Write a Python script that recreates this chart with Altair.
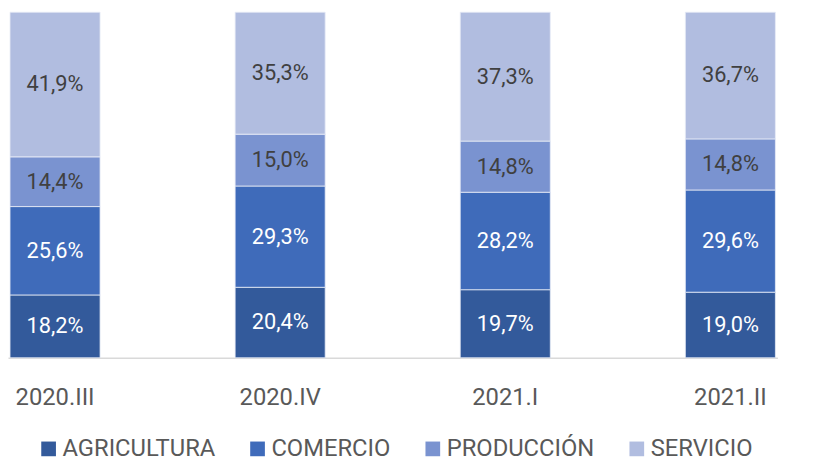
import altair as alt
import pandas as pd

periods = ["2020.III", "2020.IV", "2021.I", "2021.II"]
sectors = ["AGRICULTURA", "COMERCIO", "PRODUCCIÓN", "SERVICIO"]
agricultura = [18.2, 20.4, 19.7, 19.0]
comercio = [25.6, 29.3, 28.2, 29.6]
produccion = [14.4, 15.0, 14.8, 14.8]
servicio = [41.9, 35.3, 37.3, 36.7]
colors = ["#335A9B", "#3F6BBA", "#7A93D0", "#B1BDE0"]
text_colors = ["#FFFFFF", "#FFFFFF", "#404040", "#404040"]

rows = []
for si, (s, vals) in enumerate(zip(sectors, [agricultura, comercio, produccion, servicio])):
    for p, v in zip(periods, vals):
        rows.append({"period": p, "sector": s, "value": v, "order": si})
df = pd.DataFrame(rows)

FONT = "Roboto"

base = alt.Chart(df).transform_stack(
    stack="value", groupby=["period"], as_=["y0", "y1"],
    offset="normalize", sort=[alt.SortField("order", order="ascending")]
).transform_calculate(
    ymid="(datum.y0 + datum.y1) / 2",
    label="replace(format(datum.value, '.1f'), '.', ',') + '%'"
)

x_enc = alt.X("period:N", sort=periods,
              scale=alt.Scale(range=[0, 777], paddingInner=0.6, paddingOuter=0.009),
              axis=alt.Axis(title=None, labelAngle=0, ticks=False, grid=False,
                            domainColor="#D9D9D9", domainWidth=1.5,
                            labelFont=FONT, labelFontSize=24, labelColor="#595959",
                            labelPadding=28))

bars = base.mark_bar(stroke="#E8ECF6", strokeWidth=0.8).encode(
    x=x_enc,
    y=alt.Y("y0:Q", scale=alt.Scale(domain=[0, 1], nice=False), axis=None),
    y2="y1:Q",
    color=alt.Color("sector:N", sort=sectors,
                    scale=alt.Scale(domain=sectors, range=colors),
                    legend=alt.Legend(title=None, orient="none", direction="horizontal",
                                      legendX=29, legendY=429,
                                      symbolType="square", symbolSize=220,
                                      symbolStrokeWidth=0, labelOffset=2,
                                      columnPadding=30,
                                      labelFont=FONT, labelFontSize=24,
                                      labelColor="#595959")),
)

labels = base.mark_text(font=FONT, fontSize=22).encode(
    x=alt.X("period:N", sort=periods),
    y=alt.Y("ymid:Q"),
    text="label:N",
    color=alt.Color("sector:N", sort=sectors,
                    scale=alt.Scale(domain=sectors, range=text_colors), legend=None),
)

chart = alt.layer(bars, labels).resolve_scale(color="independent").properties(
    width=820, height=349,
    autosize=alt.AutoSizeParams(type="none"),
    padding={"left": 0, "top": 2, "right": 0, "bottom": 102},
).configure_view(stroke=None)

chart.save("out.html", embed_options={"renderer": "svg", "actions": False})
